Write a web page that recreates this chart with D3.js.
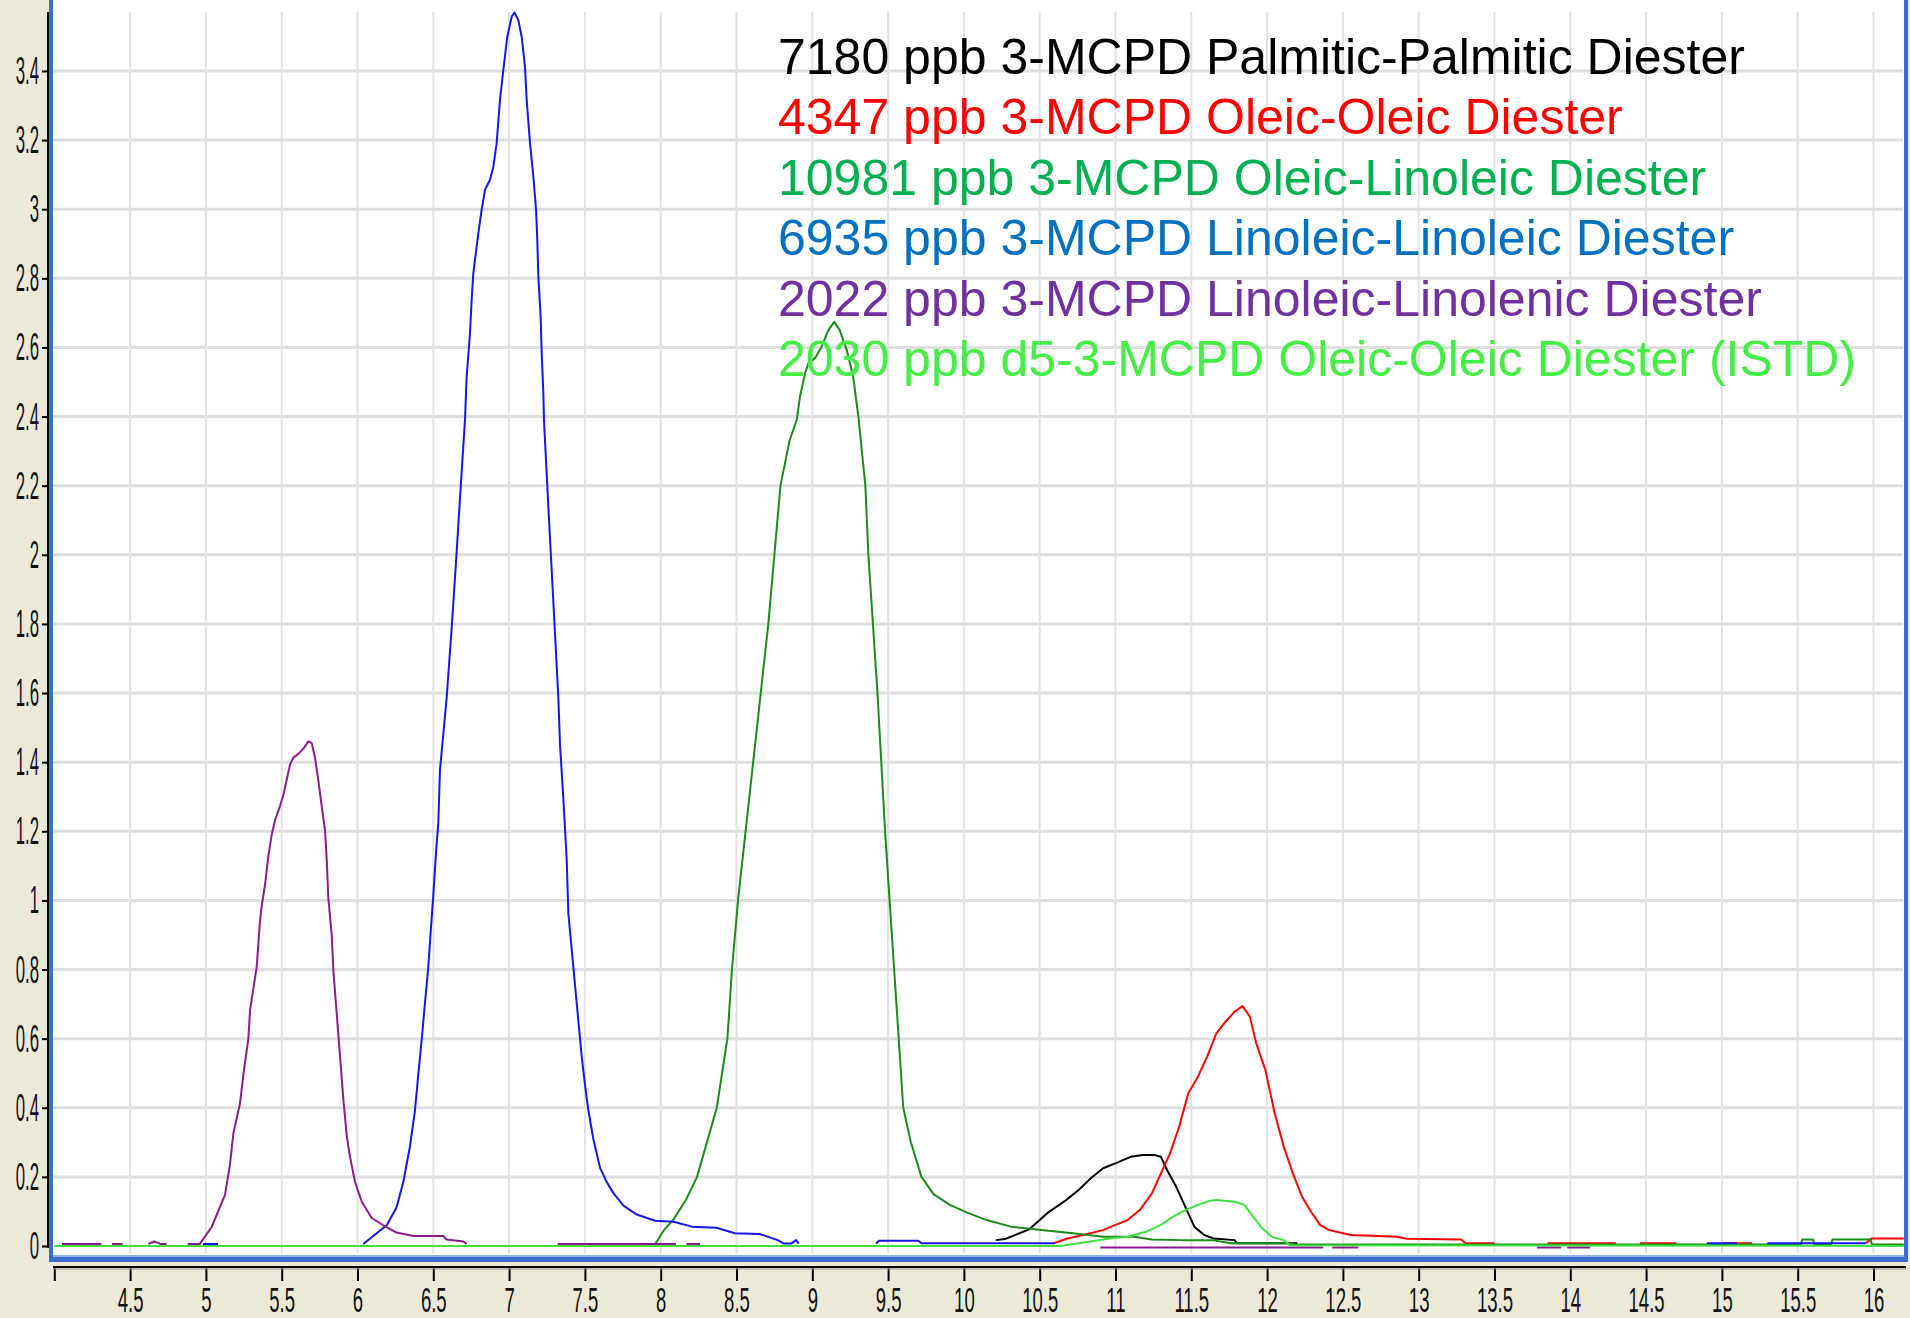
<!DOCTYPE html>
<html>
<head>
<meta charset="utf-8">
<script src="https://cdn.jsdelivr.net/npm/d3@7"></script>
<style>
  html, body { margin: 0; padding: 0; background: #ece9d8; }
  svg { display: block; }
  .tick text { font-family: "Liberation Sans", Arial, sans-serif; fill: #111; }
  .legend text { font-family: "Liberation Sans", Arial, sans-serif; font-size: 50px; }
</style>
</head>
<body>
<svg id="chart" width="1910" height="1318"></svg>
<script>
// Tick values
const xTicks = [4, 4.5, 5, 5.5, 6, 6.5, 7, 7.5, 8, 8.5, 9, 9.5, 10, 10.5, 11, 11.5, 12, 12.5, 13, 13.5, 14, 14.5, 15, 15.5, 16];
const yTicks = [0, 0.2, 0.4, 0.6, 0.8, 1, 1.2, 1.4, 1.6, 1.8, 2, 2.2, 2.4, 2.6, 2.8, 3, 3.2, 3.4];

// Legend labels and colours
const seriesNames = [
    '7180 ppb 3-MCPD Palmitic-Palmitic Diester',
    '4347 ppb 3-MCPD Oleic-Oleic Diester',
    '10981 ppb 3-MCPD Oleic-Linoleic Diester',
    '6935 ppb 3-MCPD Linoleic-Linoleic Diester',
    '2022 ppb 3-MCPD Linoleic-Linolenic Diester',
    '2030 ppb d5-3-MCPD Oleic-Oleic Diester (ISTD)'
];
const legendColors = ['#000000', '#ff0000', '#00b050', '#0070c0', '#7030a0', '#44ee44'];
const traceColors = ['#000000', '#ff0000', '#1a8c1a', '#1515f0', '#8b1c8b', '#40e040'];

// Traces: [retention time (min), response], null = gap
const palmiticPalmitic = [
    [10.21, 0.017], [10.27, 0.02], [10.43, 0.048], [10.55, 0.095], [10.675, 0.133], [10.757, 0.162],
    [10.837, 0.196], [10.918, 0.225], [10.999, 0.239], [11.10, 0.258], [11.18, 0.263], [11.26, 0.263],
    [11.30, 0.258], [11.34, 0.22], [11.40, 0.172], [11.46, 0.114], [11.52, 0.056], [11.585, 0.032],
    [11.645, 0.022], [11.786, 0.017], [11.80, 0.008], [12.2, 0.008]
];
const oleicOleic = [
    [10.595, 0.008], [10.67, 0.02], [10.757, 0.029], [10.918, 0.046], [11.0, 0.061], [11.08, 0.075],
    [11.16, 0.104], [11.24, 0.152], [11.30, 0.21], [11.36, 0.268], [11.42, 0.345], [11.48, 0.442],
    [11.544, 0.49], [11.605, 0.548], [11.665, 0.615], [11.726, 0.649], [11.786, 0.678], [11.839, 0.694],
    [11.887, 0.663], [11.928, 0.587], [11.989, 0.509], [12.05, 0.384], [12.11, 0.287], [12.17, 0.21],
    [12.23, 0.143], [12.29, 0.099], [12.35, 0.061], [12.41, 0.046], [12.554, 0.032], [12.857, 0.027],
    [12.92, 0.021], [13.28, 0.019], [13.31, 0.008], [13.5, 0.008], null,
    [13.85, 0.008], [14.3, 0.008], null, [14.46, 0.008], [14.7, 0.008], null,
    [15.0, 0.008], [15.2, 0.008], null, [15.95, 0.008], [15.99, 0.022], [16.2, 0.022]
];
const oleicLinoleic = [
    [7.964, 0.006], [8.02, 0.045], [8.085, 0.077], [8.166, 0.133], [8.24, 0.2], [8.37, 0.4], [8.44, 0.6],
    [8.47, 0.8], [8.51, 1.0], [8.56, 1.2], [8.61, 1.4], [8.66, 1.6], [8.71, 1.8], [8.75, 2.0], [8.79, 2.2],
    [8.85, 2.33], [8.897, 2.39], [8.919, 2.458], [8.952, 2.525], [8.974, 2.554], [9.018, 2.569],
    [9.062, 2.602], [9.106, 2.65], [9.145, 2.674], [9.181, 2.65], [9.227, 2.593], [9.27, 2.515],
    [9.304, 2.4], [9.35, 2.2], [9.37, 2.0], [9.40, 1.8], [9.43, 1.6], [9.455, 1.4], [9.48, 1.2],
    [9.51, 1.0], [9.54, 0.8], [9.57, 0.6], [9.60, 0.4], [9.65, 0.3], [9.72, 0.2], [9.80, 0.15],
    [9.907, 0.119], [10.03, 0.095], [10.15, 0.075], [10.31, 0.056], [10.51, 0.046], [10.72, 0.037],
    [10.92, 0.027], [11.12, 0.027], [11.24, 0.019], [11.44, 0.017], [11.64, 0.017], [11.76, 0.008],
    [12.13, 0.008], [12.2, 0.004], [15.52, 0.004], [15.53, 0.019], [15.60, 0.019], [15.61, 0.004],
    [15.72, 0.004], [15.73, 0.019], [15.98, 0.019], [15.99, 0.004], [16.2, 0.004]
];
const linoleicLinoleic = [
    [4.98, 0.006], [5.08, 0.006], null,
    [6.038, 0.006], [6.104, 0.029], [6.193, 0.06], [6.258, 0.112], [6.302, 0.185], [6.346, 0.288],
    [6.379, 0.392], [6.401, 0.496], [6.424, 0.599], [6.445, 0.703], [6.467, 0.807], [6.483, 0.911],
    [6.5, 1.014], [6.518, 1.139], [6.533, 1.222], [6.544, 1.377], [6.566, 1.481], [6.588, 1.585],
    [6.62, 1.78], [6.65, 1.98], [6.68, 2.19], [6.709, 2.39], [6.72, 2.515], [6.742, 2.641],
    [6.753, 2.737], [6.764, 2.815], [6.797, 2.93], [6.819, 2.998], [6.841, 3.056], [6.874, 3.085],
    [6.896, 3.123], [6.918, 3.191], [6.94, 3.316], [6.962, 3.403], [6.988, 3.499], [7.017, 3.557],
    [7.035, 3.569], [7.061, 3.547], [7.083, 3.499], [7.105, 3.412], [7.116, 3.316], [7.138, 3.191],
    [7.16, 3.094], [7.178, 2.998], [7.186, 2.911], [7.193, 2.805], [7.208, 2.689], [7.215, 2.583],
    [7.226, 2.467], [7.23, 2.39], [7.26, 2.13], [7.29, 1.88], [7.325, 1.585], [7.336, 1.45],
    [7.358, 1.294], [7.38, 1.118], [7.391, 0.962], [7.413, 0.859], [7.435, 0.755], [7.457, 0.651],
    [7.479, 0.548], [7.501, 0.465], [7.523, 0.392], [7.556, 0.309], [7.6, 0.226], [7.644, 0.185],
    [7.688, 0.153], [7.754, 0.117], [7.842, 0.091], [7.964, 0.073], [8.085, 0.07], [8.206, 0.056],
    [8.368, 0.053], [8.489, 0.037], [8.651, 0.035], [8.772, 0.017], [8.812, 0.007], [8.86, 0.007],
    [8.893, 0.017], [8.91, 0.007], null,
    [9.42, 0.007], [9.44, 0.015], [9.70, 0.015], [9.72, 0.008], [10.6, 0.008], null,
    [14.9, 0.008], [15.1, 0.008], null, [15.3, 0.008], [15.95, 0.008], null
];
const linoleicLinolenic = [
    [4.05, 0.006], [4.31, 0.006], null,
    [4.38, 0.006], [4.45, 0.006], null,
    [4.62, 0.006], [4.66, 0.013], [4.70, 0.006], [4.74, 0.006], null,
    [4.88, 0.006], [4.96, 0.006], [5.038, 0.055], [5.126, 0.148], [5.159, 0.236], [5.181, 0.325],
    [5.225, 0.413], [5.247, 0.496], [5.28, 0.599], [5.291, 0.682], [5.335, 0.807], [5.357, 0.942],
    [5.368, 0.983], [5.39, 1.045], [5.412, 1.128], [5.434, 1.19], [5.456, 1.232], [5.489, 1.273],
    [5.511, 1.305], [5.555, 1.393], [5.577, 1.413], [5.61, 1.424], [5.643, 1.439], [5.676, 1.46],
    [5.698, 1.455], [5.72, 1.413], [5.742, 1.346], [5.764, 1.273], [5.786, 1.201], [5.797, 1.118],
    [5.808, 1.004], [5.83, 0.9], [5.841, 0.796], [5.863, 0.672], [5.885, 0.548], [5.907, 0.423],
    [5.929, 0.319], [5.951, 0.257], [5.984, 0.185], [6.028, 0.128], [6.094, 0.081], [6.17, 0.06],
    [6.258, 0.039], [6.368, 0.029], [6.566, 0.029], [6.588, 0.019], [6.698, 0.013], [6.72, 0.006], null,
    [7.32, 0.006], [8.10, 0.006], null,
    [8.17, 0.006], [8.26, 0.006], null,
    [10.9, -0.004], [12.37, -0.004], null, [12.43, -0.004], [12.6, -0.004], null,
    [13.78, -0.004], [13.94, -0.004], null, [13.98, -0.004], [14.13, -0.004]
];
const istd = [
    [4.0, 0], [10.63, 0], [10.76, 0.008], [10.96, 0.022], [11.08, 0.027], [11.2, 0.041], [11.3, 0.061],
    [11.38, 0.085], [11.46, 0.104], [11.544, 0.119], [11.625, 0.131], [11.665, 0.133], [11.786, 0.128],
    [11.85, 0.119], [11.908, 0.085], [11.968, 0.051], [12.03, 0.027], [12.11, 0.017], [12.15, 0.002],
    [16.2, 0]
];
const traces = [palmiticPalmitic, oleicOleic, oleicLinoleic, linoleicLinoleic, linoleicLinolenic, istd];

const svg = d3.select('#chart');

// Scales (plot area in pixels)
const x = d3.scaleLinear().domain([4, 16.2]).range([54.3, 1903.8]);
const y = d3.scaleLinear().domain([0, 3.57]).range([1246, 12.2]);

// White plot background
svg.append('rect')
    .attr('x', 52).attr('y', 0)
    .attr('width', 1852).attr('height', 1256)
    .attr('fill', '#ffffff');

// Grid lines
svg.append('g')
    .selectAll('line')
    .data(yTicks.filter(d => d > 0))
    .join('line')
    .attr('x1', 53).attr('x2', 1903)
    .attr('y1', d => y(d)).attr('y2', d => y(d))
    .attr('stroke', '#dedede')
    .attr('stroke-width', 3);

svg.append('g')
    .selectAll('line')
    .data(xTicks.filter(d => d > 4))
    .join('line')
    .attr('x1', d => x(d)).attr('x2', d => x(d))
    .attr('y1', 12).attr('y2', 1254)
    .attr('stroke', '#e2e2e2')
    .attr('stroke-width', 2);

// Blue window frame
svg.append('rect').attr('x', 49).attr('y', 0).attr('width', 4).attr('height', 1262).attr('fill', '#3a6fd0');
svg.append('rect').attr('x', 1904).attr('y', 0).attr('width', 4).attr('height', 1262).attr('fill', '#3a6fd0');
svg.append('rect').attr('x', 49).attr('y', 1255).attr('width', 1859).attr('height', 7).attr('fill', '#3a6fd0');
svg.append('rect').attr('x', 53).attr('y', 1255).attr('width', 1851).attr('height', 2).attr('fill', '#8fb0e8');

// Traces
const clip = svg.append('clipPath').attr('id', 'plot-clip')
    .append('rect').attr('x', 53).attr('y', 0).attr('width', 1851).attr('height', 1254);

const line = d3.line()
    .defined(d => d !== null)
    .x(d => x(d[0]))
    .y(d => y(d[1]));

svg.append('g')
    .attr('clip-path', 'url(#plot-clip)')
    .selectAll('path')
    .data(traces)
    .join('path')
    .attr('d', d => line(d))
    .attr('fill', 'none')
    .attr('stroke', (d, i) => traceColors[i])
    .attr('stroke-width', 2)
    .attr('stroke-linejoin', 'round');

// Y axis
const yAxis = d3.axisLeft(y).tickValues(yTicks).tickSize(6).tickFormat(d => String(d));
svg.append('g')
    .attr('transform', 'translate(48,0)')
    .call(yAxis)
    .call(g => g.select('.domain').remove())
    .call(g => g.selectAll('.tick line').attr('stroke', '#000').attr('stroke-width', 2))
    .call(g => g.selectAll('.tick text')
        .attr('font-size', 39)
        .attr('x', -9 / 0.43)
        .attr('transform', 'scale(0.43,1)'));

svg.append('line')
    .attr('x1', 48).attr('x2', 48)
    .attr('y1', 12).attr('y2', 1248)
    .attr('stroke', '#000').attr('stroke-width', 2);

// X axis
const xAxis = d3.axisBottom(x).tickValues(xTicks).tickSize(14).tickPadding(6)
    .tickFormat(d => d === 4 ? '' : String(d));
svg.append('g')
    .attr('transform', 'translate(0,1267)')
    .call(xAxis)
    .call(g => g.select('.domain').remove())
    .call(g => g.selectAll('.tick line').attr('stroke', '#000').attr('stroke-width', 2))
    .call(g => g.selectAll('.tick text')
        .attr('font-size', 35)
        .attr('transform', 'scale(0.53,1)'));

svg.append('line')
    .attr('x1', 53).attr('x2', 1906)
    .attr('y1', 1267).attr('y2', 1267)
    .attr('stroke', '#000').attr('stroke-width', 2);
svg.append('line')
    .attr('x1', 53).attr('x2', 1906)
    .attr('y1', 1269).attr('y2', 1269)
    .attr('stroke', '#9a9a9a').attr('stroke-width', 1);

// Legend text
svg.append('g')
    .attr('class', 'legend')
    .selectAll('text')
    .data(seriesNames)
    .join('text')
    .attr('x', 778)
    .attr('y', (d, i) => 74 + i * 60.4)
    .attr('fill', (d, i) => legendColors[i])
    .text(d => d);
</script>
</body>
</html>
